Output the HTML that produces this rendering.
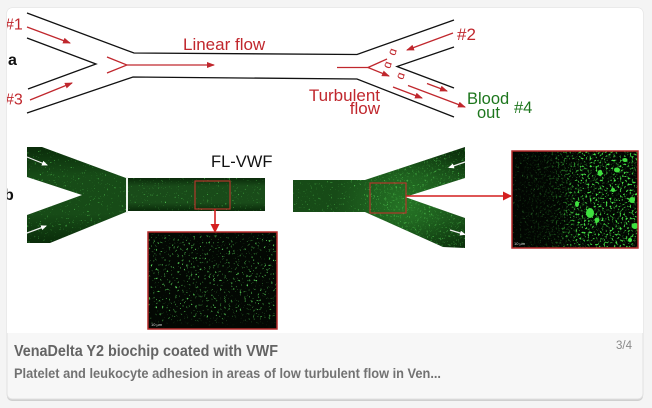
<!DOCTYPE html>
<html><head><meta charset="utf-8"><style>html,body{margin:0;padding:0;background:#f4f4f4;}svg{display:block;}</style></head>
<body>
<svg width="652" height="408" viewBox="0 0 652 408" xmlns="http://www.w3.org/2000/svg" font-family="'Liberation Sans', Arial, sans-serif">
<defs>
 <marker id="ar" markerWidth="8" markerHeight="6" refX="7" refY="3" orient="auto" markerUnits="userSpaceOnUse"><path d="M0,0 L8,3 L0,6 z" fill="#c0272d"/></marker>
 <marker id="ar2" markerWidth="9" markerHeight="9" refX="8" refY="4.5" orient="auto" markerUnits="userSpaceOnUse"><path d="M0,0 L9,4.5 L0,9 z" fill="#d41f1f"/></marker>
 <marker id="aw" markerWidth="6" markerHeight="5" refX="5" refY="2.5" orient="auto" markerUnits="userSpaceOnUse"><path d="M0,0 L6,2.5 L0,5 z" fill="#ffffff"/></marker>
 <clipPath id="card"><rect x="7" y="8" width="636" height="391" rx="5"/></clipPath>
 <clipPath id="cy1"><polygon points="27,147 42,147 126,178 126,212 50,243 27,243 27,215 82,195 27,177"/></clipPath>
 <clipPath id="cc1"><rect x="128" y="178" width="137" height="33"/></clipPath>
 <clipPath id="cy2"><polygon points="293,180 365,180 465,147 465,178 405,197 465,218 465,248 443,247 365,212 293,212"/></clipPath>
 <clipPath id="ci1"><rect x="148" y="232" width="129" height="97"/></clipPath>
 <clipPath id="ci2"><rect x="512" y="151" width="126" height="97"/></clipPath>
 <linearGradient id="gv" x1="0" y1="0" x2="0" y2="1">
  <stop offset="0" stop-color="#0a2c0a"/><stop offset="0.3" stop-color="#174b17"/><stop offset="0.7" stop-color="#174b17"/><stop offset="1" stop-color="#0a2c0a"/>
 </linearGradient>
 <linearGradient id="gc" x1="0" y1="0" x2="0" y2="1">
  <stop offset="0" stop-color="#0a2a0a"/><stop offset="0.25" stop-color="#194b19"/><stop offset="0.75" stop-color="#194b19"/><stop offset="1" stop-color="#0a2a0a"/>
 </linearGradient>
 <radialGradient id="gj" cx="405" cy="205" r="70" gradientUnits="userSpaceOnUse">
  <stop offset="0" stop-color="#3fbf3f" stop-opacity="0.35"/><stop offset="1" stop-color="#3fbf3f" stop-opacity="0"/>
 </radialGradient>
 <linearGradient id="gm" x1="512" y1="0" x2="638" y2="0" gradientUnits="userSpaceOnUse">
  <stop offset="0" stop-color="#000" /><stop offset="0.3" stop-color="#333"/><stop offset="0.55" stop-color="#fff"/><stop offset="1" stop-color="#fff"/>
 </linearGradient>
 <mask id="mr"><rect x="512" y="151" width="126" height="97" fill="url(#gm)"/></mask>
 <linearGradient id="gl" x1="0" y1="232" x2="0" y2="329" gradientUnits="userSpaceOnUse">
  <stop offset="0" stop-color="#000"/><stop offset="0.06" stop-color="#fff"/><stop offset="0.85" stop-color="#fff"/><stop offset="0.95" stop-color="#222"/><stop offset="1" stop-color="#000"/>
 </linearGradient>
 <mask id="ml"><rect x="148" y="232" width="129" height="97" fill="url(#gl)"/></mask>
 <filter id="sp1" x="0" y="0" width="1" height="1">
  <feTurbulence type="fractalNoise" baseFrequency="0.55" numOctaves="2" seed="4" result="n"/>
  <feColorMatrix in="n" type="matrix" values="0 0 0 0 0  0 0 0 0 0  0 0 0 0 0  1 0 0 0 0" result="a"/>
  <feComponentTransfer in="a" result="t"><feFuncA type="linear" slope="8" intercept="-5.6"/></feComponentTransfer>
  <feFlood flood-color="#5fe35f" result="f"/>
  <feComposite in="f" in2="t" operator="in"/>
 </filter>
 <filter id="sp2" x="0" y="0" width="1" height="1">
  <feTurbulence type="fractalNoise" baseFrequency="0.45" numOctaves="2" seed="9" result="n"/>
  <feColorMatrix in="n" type="matrix" values="0 0 0 0 0  0 0 0 0 0  0 0 0 0 0  1 0 0 0 0" result="a"/>
  <feComponentTransfer in="a" result="t"><feFuncA type="linear" slope="7" intercept="-4.5"/></feComponentTransfer>
  <feFlood flood-color="#5ad65a" result="f"/>
  <feComposite in="f" in2="t" operator="in"/>
 </filter>
 <filter id="sp3" x="0" y="0" width="1" height="1">
  <feTurbulence type="fractalNoise" baseFrequency="0.5" numOctaves="2" seed="13" result="n"/>
  <feColorMatrix in="n" type="matrix" values="0 0 0 0 0  0 0 0 0 0  0 0 0 0 0  1 0 0 0 0" result="a"/>
  <feComponentTransfer in="a" result="t"><feFuncA type="linear" slope="7" intercept="-4.0"/></feComponentTransfer>
  <feFlood flood-color="#46e646" result="f"/>
  <feComposite in="f" in2="t" operator="in"/>
 </filter>
</defs>

<rect x="0" y="0" width="652" height="408" fill="#f4f4f4"/>
<rect x="7" y="10" width="636" height="391" rx="5" fill="#cfcfcf"/>
<rect x="7" y="8" width="636" height="391" rx="5" fill="#f7f7f7" stroke="#e0e0e0" stroke-width="1"/>

<g clip-path="url(#card)">
 <rect x="7" y="8" width="636" height="325" fill="#ffffff"/>

 <!-- top schematic -->
 <g fill="none" stroke="#111" stroke-width="1.3">
  <polyline points="27,13 134,53 357,54.5 454,20"/>
  <polyline points="27,38 96,64 28,89"/>
  <polyline points="27,113 133,77 357,79 454,117"/>
  <polyline points="454,47 397,66.5 454,88"/>
 </g>
 <g fill="none" stroke="#c0272d" stroke-width="1.3">
  <line x1="27" y1="27" x2="70" y2="43" marker-end="url(#ar)"/>
  <line x1="30" y1="100" x2="72" y2="83" marker-end="url(#ar)"/>
  <polyline points="107,57 127,65 107,73"/>
  <line x1="127" y1="65" x2="214" y2="65" marker-end="url(#ar)"/>
  <line x1="337" y1="67.5" x2="368" y2="67.5"/>
  <line x1="368" y1="67.5" x2="387" y2="59"/>
  <line x1="368" y1="67.5" x2="389" y2="76" marker-end="url(#ar)"/>
  <line x1="453" y1="33" x2="407" y2="50" marker-end="url(#ar)"/>
  <line x1="393" y1="87" x2="422" y2="98" marker-end="url(#ar)"/>
  <line x1="427" y1="83.5" x2="447" y2="91" marker-end="url(#ar)"/>
  <line x1="408" y1="85.5" x2="465" y2="107" marker-end="url(#ar)"/>
 </g>
 <g fill="#c0272d" font-size="12">
  <text x="0" y="0" transform="translate(393,52) rotate(-70)" text-anchor="middle" dominant-baseline="middle">ɑ</text>
  <text x="0" y="0" transform="translate(388,65) rotate(-70)" text-anchor="middle" dominant-baseline="middle">ɑ</text>
  <text x="0" y="0" transform="translate(401,76) rotate(-70)" text-anchor="middle" dominant-baseline="middle">ɑ</text>
 </g>
 <g fill="#c0272d" font-size="17">
  <text x="5" y="29.5" font-size="16">#1</text>
  <text x="5" y="104.5" font-size="16">#3</text>
  <text x="183" y="50">Linear flow</text>
  <text x="380" y="101" text-anchor="end">Turbulent</text>
  <text x="380" y="114" text-anchor="end">flow</text>
  <text x="457" y="40">#2</text>
 </g>
 <text x="8" y="65" font-size="16" font-weight="bold" fill="#111">a</text>
 <g fill="#1d761d" font-size="16.5">
  <text x="467" y="104">Blood</text>
  <text x="477" y="118">out</text>
  <text x="514" y="113">#4</text>
 </g>

 <!-- lower micrographs -->
 <text x="4" y="200" font-size="16" font-weight="bold" fill="#111">b</text>
 <text x="211" y="167" font-size="16.5" fill="#111">FL-VWF</text>

 <!-- left Y -->
 <polygon points="27,147 42,147 126,178 126,212 50,243 27,243 27,215 82,195 27,177" fill="url(#gv)"/>
 <rect x="27" y="147" width="100" height="97" filter="url(#sp1)" clip-path="url(#cy1)" opacity="0.8"/>
 <line x1="127" y1="177" x2="127" y2="213" stroke="#e8f0e8" stroke-width="1.5"/>
 <rect x="128" y="178" width="137" height="33" fill="url(#gc)"/>
 <rect x="128" y="178" width="137" height="33" filter="url(#sp1)" clip-path="url(#cc1)" opacity="0.8"/>
 <line x1="27" y1="157" x2="47" y2="165" stroke="#f2f2f2" stroke-width="1.2" marker-end="url(#aw)"/>
 <line x1="27" y1="233" x2="46" y2="226" stroke="#f2f2f2" stroke-width="1.2" marker-end="url(#aw)"/>

 <rect x="195" y="181" width="35" height="28" fill="none" stroke="#b3372c" stroke-width="1.2"/>
 <line x1="215" y1="209" x2="215" y2="232" stroke="#d41f1f" stroke-width="1.6" marker-end="url(#ar2)"/>

 <!-- left inset -->
 <rect x="148" y="232" width="129" height="97" fill="#030803"/>
 <g mask="url(#ml)">
  <rect x="148" y="232" width="129" height="97" filter="url(#sp2)" clip-path="url(#ci1)"/>
 </g>
 <rect x="148" y="232" width="129" height="97" fill="none" stroke="#b52a2a" stroke-width="1.5"/>
 <text x="151" y="326" font-size="4" fill="#ddd">10 µm</text>

 <!-- right Y -->
 <polygon points="293,180 365,180 465,147 465,178 405,197 465,218 465,248 443,247 365,212 293,212" fill="url(#gv)"/>
 <polygon points="293,180 365,180 465,147 465,178 405,197 465,218 465,248 443,247 365,212 293,212" fill="url(#gj)"/>
 <rect x="293" y="147" width="172" height="101" filter="url(#sp1)" clip-path="url(#cy2)" opacity="0.8"/>
 <rect x="365" y="147" width="100" height="101" filter="url(#sp2)" clip-path="url(#cy2)" opacity="0.6"/>
 <line x1="465" y1="162" x2="449" y2="167.5" stroke="#f2f2f2" stroke-width="1.2" marker-end="url(#aw)"/>
 <line x1="450" y1="230" x2="465" y2="234.5" stroke="#f2f2f2" stroke-width="1.2" marker-end="url(#aw)"/>

 <rect x="370" y="183" width="36" height="30" fill="none" stroke="#b3372c" stroke-width="1.2"/>
 <line x1="406" y1="196" x2="511" y2="196" stroke="#d41f1f" stroke-width="1.6" marker-end="url(#ar2)"/>

 <!-- right inset -->
 <rect x="512" y="151" width="126" height="97" fill="#020602"/>
 <g mask="url(#mr)">
  <rect x="512" y="151" width="126" height="97" filter="url(#sp3)" clip-path="url(#ci2)"/>
 </g>
 <rect x="512" y="151" width="126" height="97" filter="url(#sp2)" clip-path="url(#ci2)" opacity="0.35"/>
 <g fill="#3fe03f" clip-path="url(#ci2)">
  <ellipse cx="590" cy="213" rx="4" ry="5"/>
  <ellipse cx="597" cy="220" rx="2.5" ry="2.5"/>
  <ellipse cx="635" cy="226" rx="3.5" ry="3"/>
  <ellipse cx="600" cy="173" rx="2.5" ry="3"/>
  <ellipse cx="617" cy="170" rx="3" ry="2.5"/>
  <ellipse cx="632" cy="200" rx="3" ry="3"/>
  <ellipse cx="577" cy="204" rx="2" ry="3"/>
  <ellipse cx="625" cy="160" rx="2.5" ry="2"/>
  <ellipse cx="613" cy="190" rx="2" ry="2"/>
  <ellipse cx="630" cy="240" rx="2" ry="2"/>
 </g>
 <rect x="512" y="151" width="126" height="97" fill="none" stroke="#b52a2a" stroke-width="1.5"/>
 <text x="514" y="245" font-size="4" fill="#ddd">10 µm</text>
</g>

<!-- caption -->
<text x="14" y="356" font-size="15.5" font-weight="bold" fill="#646464" textLength="264" lengthAdjust="spacingAndGlyphs">VenaDelta Y2 biochip coated with VWF</text>
<text x="14" y="378" font-size="13.5" font-weight="bold" fill="#727272" textLength="427" lengthAdjust="spacingAndGlyphs">Platelet and leukocyte adhesion in areas of low turbulent flow in Ven...</text>
<text x="616" y="349" font-size="11.5" fill="#8a8a8a">3/4</text>
</svg>
</body></html>
